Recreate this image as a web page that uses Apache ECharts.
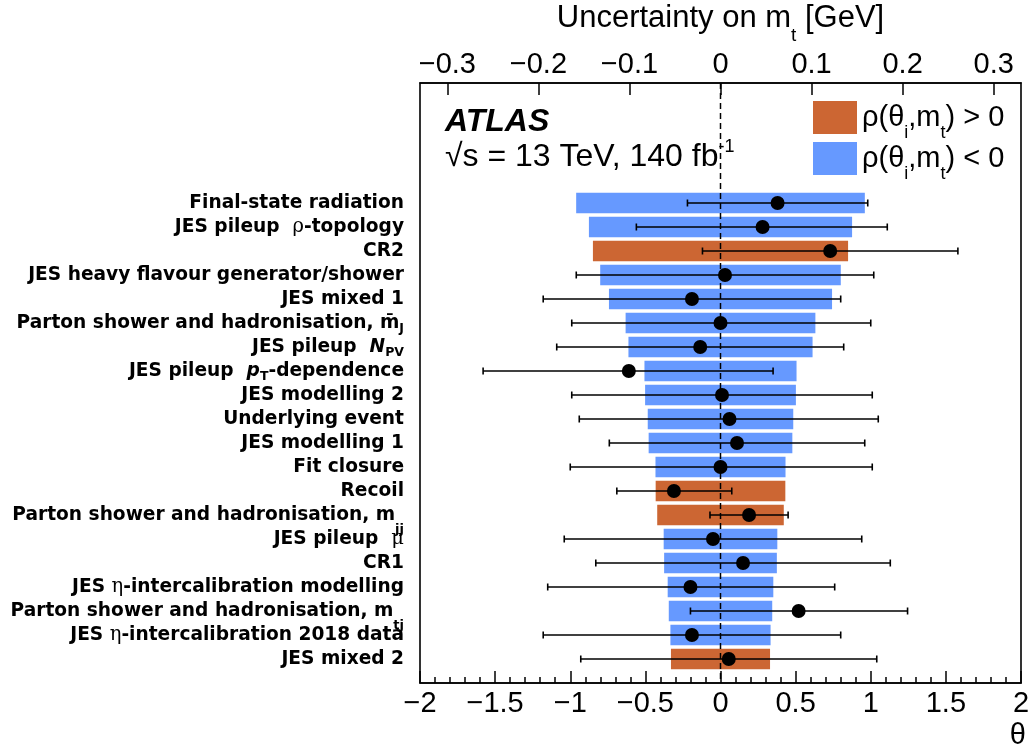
<!DOCTYPE html>
<html>
<head>
<meta charset="utf-8">
<script src="https://cdn.jsdelivr.net/npm/echarts@6/dist/echarts.min.js"></script>
<style>
html, body { margin: 0; padding: 0; background: #fff; }
#main { width: 1029px; height: 747px; }
</style>
</head>
<body>
<div id="main"></div>
<script>
// nuisance parameters, top to bottom (rich text markup for sub/superscripts)
var paramLabels = [
    '{b|Final-state radiation}',
    '{b|JES pileup  }{g|ρ}{b|-topology}',
    '{b|CR2}',
    '{b|JES heavy flavour generator/shower}',
    '{b|JES mixed 1}',
    '{b|Parton shower and hadronisation, m\u0304}{sub|J}',
    '{b|JES pileup  }{bi|N}{sub|PV}',
    '{b|JES pileup  }{bi|p}{sub|T}{b|-dependence}',
    '{b|JES modelling 2}',
    '{b|Underlying event}',
    '{b|JES modelling 1}',
    '{b|Fit closure}',
    '{b|Recoil}',
    '{b|Parton shower and hadronisation, m}{low|jj}',
    '{b|JES pileup  }{g|μ}',
    '{b|CR1}',
    '{b|JES }{g|η}{b|-intercalibration modelling}',
    '{b|Parton shower and hadronisation, m}{low|tj}',
    '{b|JES }{g|η}{b|-intercalibration 2018 data}',
    '{b|JES mixed 2}'
];
// impact on m_t [GeV] (half width of the band)
var impact = [0.1585, 0.1445, 0.1401, 0.1321, 0.1225, 0.1042, 0.1011, 0.0835, 0.0828, 0.0799,
              0.0789, 0.0714, 0.0712, 0.0695, 0.0624, 0.0619, 0.0580, 0.0568, 0.0550, 0.0544];
// sign of correlation rho(theta_i, m_t)
var corrSign = [-1, -1, 1, -1, -1, -1, -1, -1, -1, -1, -1, -1, 1, 1, -1, -1, -1, -1, -1, 1];
// pulls theta and their error bar ends
var pull   = [0.38, 0.28, 0.73, 0.03, -0.19, 0.00, -0.135, -0.61, 0.01, 0.06,
              0.11, 0.00, -0.31, 0.19, -0.05, 0.15, -0.20, 0.52, -0.19, 0.055];
var pullLo = [-0.22, -0.56, -0.12, -0.96, -1.18, -0.99, -1.09, -1.58, -0.99, -0.94,
              -0.74, -1.00, -0.69, -0.07, -1.04, -0.83, -1.15, -0.20, -1.18, -0.93];
var pullHi = [0.98, 1.11, 1.58, 1.02, 0.80, 1.00, 0.82, 0.35, 1.01, 1.05,
              0.96, 1.01, 0.075, 0.45, 0.94, 1.13, 0.76, 1.245, 0.80, 1.04];
var thetaTicks = [-2, 2, 0.5];

var orange = '#cc6633';
var blue = '#6699ff';
var sans = '"Liberation Sans", Arial, Helvetica, sans-serif';

var posData = [], negData = [], errData = [], pullData = [];
for (var i = 0; i < impact.length; i++) {
    if (corrSign[i] > 0) posData.push([impact[i], i]);
    else negData.push([impact[i], i]);
    errData.push([pullLo[i], pullHi[i], i]);
    pullData.push([pull[i], i]);
}

function minus(v) {
    return String(v).replace('-', '\u2212');
}

function renderBand(params, api) {
    var w = api.value(0), row = api.value(1);
    var p0 = api.coord([-w, row]);
    var p1 = api.coord([w, row]);
    var h = api.size([0, 1])[1] * 0.85;
    return {
        type: 'rect',
        shape: { x: p0[0], y: p0[1] - h / 2, width: p1[0] - p0[0], height: h },
        style: api.style()
    };
}

function renderErr(params, api) {
    var a = api.coord([api.value(0), api.value(2)]);
    var b = api.coord([api.value(1), api.value(2)]);
    var st = { stroke: '#000', lineWidth: 1.6 };
    return {
        type: 'group',
        children: [
            { type: 'line', shape: { x1: a[0], y1: a[1], x2: b[0], y2: b[1] }, style: st },
            { type: 'line', shape: { x1: a[0], y1: a[1] - 3.5, x2: a[0], y2: a[1] + 3.5 }, style: st },
            { type: 'line', shape: { x1: b[0], y1: b[1] - 3.5, x2: b[0], y2: b[1] + 3.5 }, style: st }
        ]
    };
}

var legendNames = {
    pos: '{a|ρ(θ}{s|i}{a|,m}{s|t}{a|) > 0}',
    neg: '{a|ρ(θ}{s|i}{a|,m}{s|t}{a|) < 0}'
};

var chart = echarts.init(document.getElementById('main'));
var option = {
    animation: false,
    backgroundColor: '#fff',
    grid: {
        left: 420, right: 8, top: 83, bottom: 64,
        outerBoundsMode: 'none',
        containLabel: false,
        show: true, borderColor: '#000', borderWidth: 1.6,
        backgroundColor: 'transparent'
    },
    legend: {
        left: 813, top: 101,
        padding: 0,
        orient: 'vertical',
        itemWidth: 44, itemHeight: 33, itemGap: 0,
        selectedMode: false,
        icon: 'rect',
        data: ['pos', 'neg'],
        formatter: function (name) { return legendNames[name]; },
        textStyle: {
            rich: {
                a: { fontFamily: sans, fontSize: 29, color: '#000', lineHeight: 33 },
                s: { fontFamily: sans, fontSize: 18, color: '#000', lineHeight: 2, height: 2, verticalAlign: 'bottom' }
            }
        }
    },
    graphic: [
        {
            type: 'text', left: 445, top: 106,
            style: { text: 'ATLAS', fontFamily: sans, fontSize: 32, fontWeight: 'bold', fontStyle: 'italic', fill: '#000' }
        },
        {
            type: 'text', left: 445, top: 137,
            style: {
                text: '{a|√s = 13 TeV, 140 fb}{sup|-1}',
                rich: {
                    a: { fontFamily: sans, fontSize: 32, fill: '#000', lineHeight: 40 },
                    sup: { fontFamily: sans, fontSize: 18, fill: '#000', lineHeight: 20, height: 20, verticalAlign: 'top' }
                }
            }
        },
        {
            type: 'text', x: 1026, y: 736,
            style: { text: 'θ', fontFamily: sans, fontSize: 29, fill: '#000', align: 'right', verticalAlign: 'middle' }
        }
    ],
    xAxis: [
        {
            type: 'value',
            position: 'bottom',
            min: thetaTicks[0], max: thetaTicks[1], interval: thetaTicks[2],
            axisLine: { onZero: false, lineStyle: { color: '#000', width: 1.6 } },
            axisTick: { inside: true, length: 12, lineStyle: { color: '#000', width: 1.5 } },
            minorTick: { show: true, splitNumber: 5, length: 6, lineStyle: { color: '#000', width: 1.5 } },
            splitLine: { show: false },
            axisLabel: {
                fontFamily: sans, fontSize: 29, color: '#000', margin: 6, lineHeight: 29,
                formatter: minus
            }
        },
        {
            type: 'value',
            position: 'top',
            min: -0.33, max: 0.33, splitNumber: 6,
            name: '{a|Uncertainty on m}{s|t}{a| [GeV]}',
            nameLocation: 'middle',
            nameGap: 36,
            nameTextStyle: {
                rich: {
                    a: { fontFamily: sans, fontSize: 31, color: '#000', lineHeight: 40 },
                    s: { fontFamily: sans, fontSize: 19, color: '#000', lineHeight: 6, height: 6, verticalAlign: 'bottom' }
                }
            },
            axisLine: { onZero: false, lineStyle: { color: '#000', width: 1.6 } },
            axisTick: { inside: true, length: 12, lineStyle: { color: '#000', width: 1.5 } },
            splitLine: { show: false },
            axisLabel: {
                fontFamily: sans, fontSize: 29, color: '#000', margin: 4, lineHeight: 29,
                showMinLabel: false, showMaxLabel: false,
                formatter: minus
            }
        }
    ],
    yAxis: {
        type: 'value',
        inverse: true,
        min: -5, max: 20, interval: 1,
        axisLine: { show: false },
        axisTick: { show: false },
        splitLine: { show: false },
        axisLabel: {
            margin: 16,
            formatter: function (v) {
                return (v >= 0 && v < paramLabels.length && v % 1 === 0) ? paramLabels[v] : '';
            },
            rich: {
                b: { fontFamily: 'DejaVu Sans', fontWeight: 'bold', fontSize: 18.6, color: '#000', lineHeight: 40 },
                bi: { fontFamily: 'DejaVu Sans', fontWeight: 'bold', fontStyle: 'italic', fontSize: 18.6, color: '#000', lineHeight: 40 },
                g: { fontFamily: 'DejaVu Serif', fontSize: 19.5, color: '#000', lineHeight: 40 },
                sub: { fontFamily: 'DejaVu Sans', fontWeight: 'bold', fontSize: 12.5, color: '#000', lineHeight: 28, height: 28, verticalAlign: 'bottom' },
                low: { fontFamily: 'DejaVu Sans', fontWeight: 'bold', fontSize: 13, color: '#000', lineHeight: 10, height: 10, verticalAlign: 'bottom' }
            }
        }
    },
    series: [
        {
            name: 'pos', type: 'custom', xAxisIndex: 1, yAxisIndex: 0, z: 2,
            itemStyle: { color: orange },
            renderItem: renderBand,
            data: posData
        },
        {
            name: 'neg', type: 'custom', xAxisIndex: 1, yAxisIndex: 0, z: 2,
            itemStyle: { color: blue },
            renderItem: renderBand,
            data: negData
        },
        {
            name: 'zero', type: 'line', xAxisIndex: 0, yAxisIndex: 0, z: 3,
            symbol: 'none', silent: true,
            lineStyle: { color: '#000', width: 1.5, type: [6, 4] },
            data: [[0, -5], [0, 20]]
        },
        {
            name: 'err', type: 'custom', xAxisIndex: 0, yAxisIndex: 0, z: 4,
            renderItem: renderErr,
            data: errData
        },
        {
            name: 'pull', type: 'scatter', xAxisIndex: 0, yAxisIndex: 0, z: 5,
            symbol: 'circle', symbolSize: 14,
            itemStyle: { color: '#000', opacity: 1 },
            data: pullData
        }
    ]
};
chart.setOption(option);
</script>
</body>
</html>
